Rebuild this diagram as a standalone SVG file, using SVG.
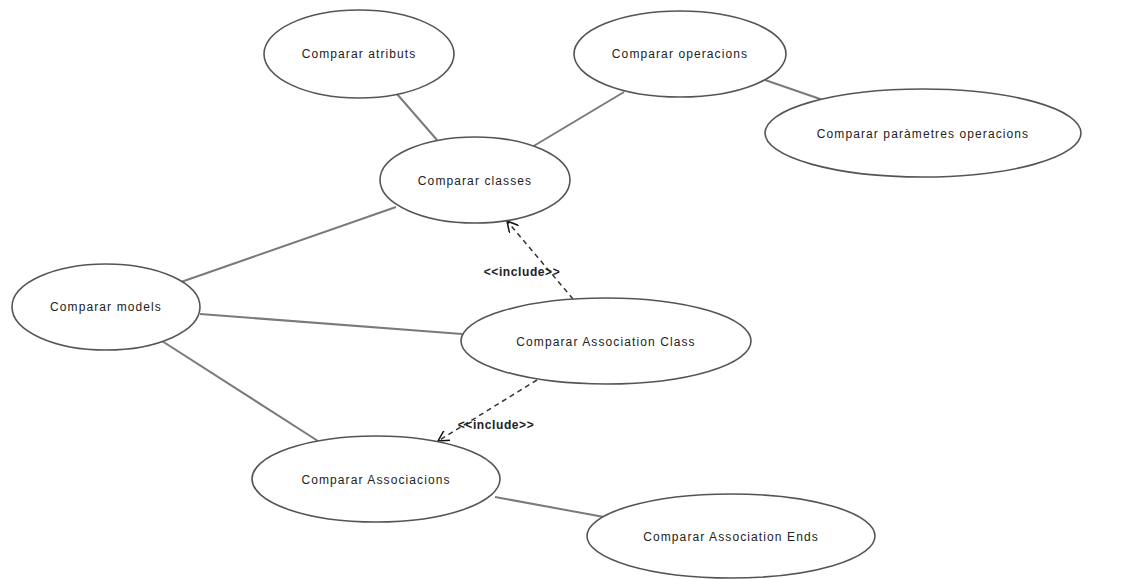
<svg xmlns="http://www.w3.org/2000/svg" width="1127" height="579" viewBox="0 0 1127 579">
<style>
.uc ellipse{fill:#fff;stroke:#555;stroke-width:1.6}
.uc text{font-family:"Liberation Sans",Arial,sans-serif;font-size:12px;letter-spacing:1.1px;fill:#222;text-anchor:middle}
.assoc line{stroke:#7a7a7a;stroke-width:2}
.inc line{stroke:#333;stroke-width:1.5;stroke-dasharray:5,4}
.lbl{font-family:"Liberation Sans",Arial,sans-serif;font-size:12px;letter-spacing:0.6px;fill:#222;text-anchor:middle;font-weight:bold}
</style>
<defs>
<marker id="open" viewBox="0 0 12 12" refX="11" refY="6" markerWidth="12" markerHeight="12" markerUnits="userSpaceOnUse" orient="auto">
<path d="M0,0 L11,6 L0,12" fill="none" stroke="#111" stroke-width="1.5"/>
</marker>
</defs>
<rect width="1127" height="579" fill="#fff"/>
<g id="connectors">
<g class="assoc">
<line x1="397" y1="94" x2="437" y2="140"/>
<line x1="624" y1="92" x2="532" y2="147"/>
<line x1="765" y1="80" x2="823" y2="100"/>
<line x1="396" y1="207" x2="181" y2="282"/>
<line x1="200" y1="314" x2="462" y2="334"/>
<line x1="162" y1="341" x2="318" y2="441"/>
<line x1="495" y1="497" x2="604" y2="517"/>
</g>
<g class="inc">
<line x1="573" y1="299" x2="507" y2="221" marker-end="url(#open)"/>
<line x1="537" y1="380" x2="438" y2="441" marker-end="url(#open)"/>
</g>
<text class="lbl" x="522" y="276">&lt;&lt;include&gt;&gt;</text>
<text class="lbl" x="496" y="429">&lt;&lt;include&gt;&gt;</text>
</g>
<g id="atributs" class="uc"><ellipse cx="359" cy="54" rx="95" ry="44"/><text x="359" y="58">Comparar atributs</text></g>
<g id="operacions" class="uc"><ellipse cx="680" cy="54" rx="106" ry="43"/><text x="680" y="58">Comparar operacions</text></g>
<g id="parametres" class="uc"><ellipse cx="923" cy="133" rx="158" ry="44"/><text x="923" y="138">Comparar paràmetres operacions</text></g>
<g id="classes" class="uc"><ellipse cx="475" cy="180" rx="95" ry="43"/><text x="475" y="185">Comparar classes</text></g>
<g id="models" class="uc"><ellipse cx="106" cy="307" rx="94" ry="43"/><text x="106" y="311">Comparar models</text></g>
<g id="assocclass" class="uc"><ellipse cx="606" cy="341" rx="145" ry="43"/><text x="606" y="346">Comparar Association Class</text></g>
<g id="associacions" class="uc"><ellipse cx="376" cy="479" rx="124" ry="43"/><text x="376" y="484">Comparar Associacions</text></g>
<g id="assocends" class="uc"><ellipse cx="731" cy="536" rx="144" ry="42"/><text x="731" y="541">Comparar Association Ends</text></g>
</svg>
